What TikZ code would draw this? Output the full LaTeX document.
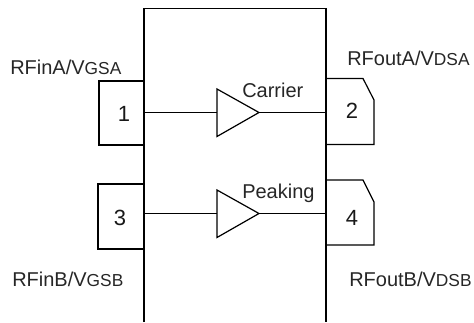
\documentclass[tikz,border=0pt]{standalone}
\usepackage{fontspec}
\setmainfont{Liberation Sans}
\usetikzlibrary{calc}
\newcommand{\lbl}[2]{{\fontsize{15}{17}\selectfont #1}{\fontsize{13}{17}\selectfont #2}}
\tikzset{
  x=0.75pt,y=-0.75pt,
  wire/.style={draw=black,line width=0.75pt},
  frame/.style={draw=black,line width=0.9pt,line join=miter},
  lab/.style={inner sep=0pt,anchor=base west,text=black!85},
  num/.style={inner sep=0pt,font=\fontsize{16.5}{18}\selectfont,text=black!90},
}
\begin{document}
\begin{tikzpicture}
\useasboundingbox (0,0) rectangle (474,322);
% package body
\draw[frame] (144,322) -- (144,8.5) -- (326,8.5) -- (326,322);
% pins
\draw[frame] (144,81) -- (99,81) -- (99,145) -- (144,145);
\draw[frame] (326,78.5) -- (363,78.5) -- (374,100) -- (374,144.5) -- (326,144.5);
\draw[frame] (144,184) -- (98,184) -- (98,249) -- (144,249);
\draw[frame] (326,180) -- (363,180) -- (374,202) -- (374,245) -- (326,245);
% connection points
\coordinate (inA) at (144,112.5);
\coordinate (outA) at (326,112.5);
\coordinate (inB) at (144,213.5);
\coordinate (outB) at (326,213.5);
\coordinate (ampAin) at (217,112.5);
\coordinate (ampAout) at (259,112.5);
\coordinate (ampBin) at (217,213.5);
\coordinate (ampBout) at (259,213.5);
% amplifiers
\draw[frame] (217,89) -- (ampAout) -- (217,136.5) -- cycle;
\draw[frame] (217,190) -- (ampBout) -- (217,237.5) -- cycle;
\draw[wire] (inA) -- (ampAin);
\draw[wire] (ampAout) -- (outA);
\draw[wire] (inB) -- (ampBin);
\draw[wire] (ampBout) -- (outB);
% pin numbers
\node[num] (n1) at (124,114) {1};
\node[num] (n2) at (352,111) {2};
\node[num] (n3) at (120,218) {3};
\node[num] (n4) at (352,218) {4};
% labels
\node[lab] (la) at (10,74) {\lbl{RFinA/V}{GSA}};
\node[lab] (lb) at (347,65) {\lbl{RFoutA/V}{DSA}};
\node[lab] (lc) at (12,286) {\lbl{RFinB/V}{GSB}};
\node[lab] (ld) at (349,286) {\lbl{RFoutB/V}{DSB}};
\node[lab,font=\fontsize{15}{17}\selectfont] (carrier) at (242,97) {Carrier};
\node[lab,font=\fontsize{15}{17}\selectfont] (peaking) at (242,198) {Peaking};
\end{tikzpicture}
\end{document}
